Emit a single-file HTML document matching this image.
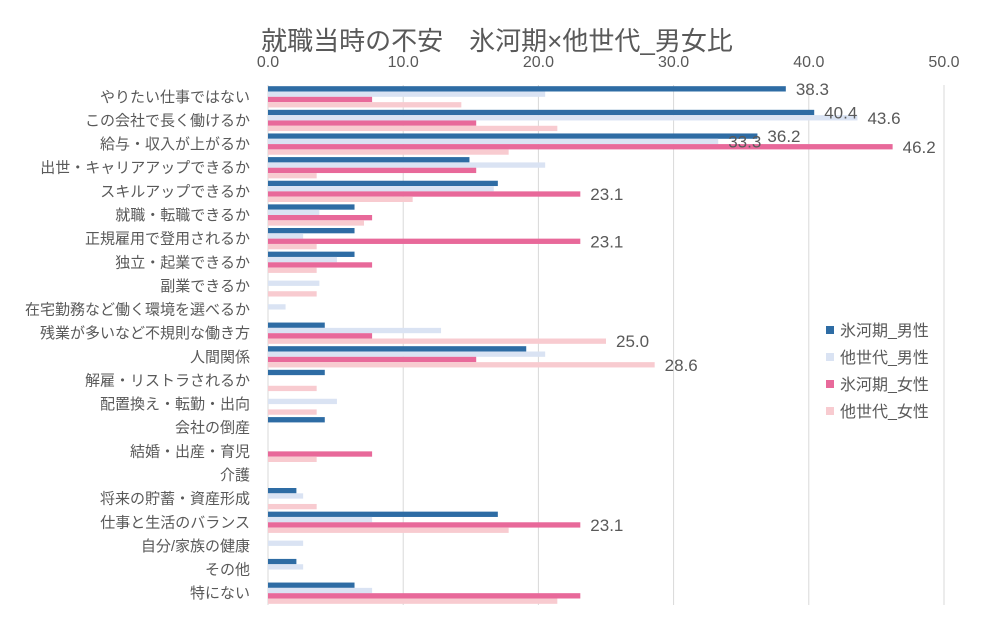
<!DOCTYPE html>
<html><head><meta charset="utf-8"><style>
body{margin:0;background:#fff;}
svg text{font-family:"Liberation Sans","Noto Sans CJK JP",sans-serif;fill:#595959;}
</style></head><body>
<svg id="chart" width="991" height="618" xmlns="http://www.w3.org/2000/svg">
<text x="497" y="50" font-size="26" text-anchor="middle">就職当時の不安　氷河期×他世代_男女比</text>
<g id="grid"></g><g id="bars"></g><g id="labels"></g>
<g id="legend"></g>
</svg>
<script>
const categories=["やりたい仕事ではない","この会社で長く働けるか","給与・収入が上がるか","出世・キャリアアップできるか","スキルアップできるか","就職・転職できるか","正規雇用で登用されるか","独立・起業できるか","副業できるか","在宅勤務など働く環境を選べるか","残業が多いなど不規則な働き方","人間関係","解雇・リストラされるか","配置換え・転勤・出向","会社の倒産","結婚・出産・育児","介護","将来の貯蓄・資産形成","仕事と生活のバランス","自分/家族の健康","その他","特にない"];
const seriesNames=["氷河期_男性","他世代_男性","氷河期_女性","他世代_女性"];
const hyoMale=[38.3,40.4,36.2,14.9,17.0,6.4,6.4,6.4,0,0,4.2,19.1,4.2,0,4.2,0,0,2.1,17.0,0,2.1,6.4];
const otherMale=[20.5,43.6,33.3,20.5,16.7,3.8,2.6,5.1,3.8,1.3,12.8,20.5,0,5.1,0,0,0,2.6,7.7,2.6,2.6,7.7];
const hyoFemale=[7.7,15.4,46.2,15.4,23.1,7.7,23.1,7.7,0,0,7.7,15.4,0,0,0,7.7,0,0,23.1,0,0,23.1];
const otherFemale=[14.3,21.4,17.8,3.6,10.7,7.1,3.6,3.6,3.6,0,25.0,28.6,3.6,3.6,0,3.6,0,3.6,17.8,0,0,21.4];
const ticks=[0,10,20,30,40,50];
const shown=[[0,0],[1,0],[1,1],[2,0],[2,1],[2,2],[4,2],[6,2],[18,2],[10,3],[11,3]];
const colors=["#2e6ca4","#dae3f3","#e8699a","#f8cbd0"];
const all=[hyoMale,otherMale,hyoFemale,otherFemale];
const NS="http://www.w3.org/2000/svg";
const x0=268,x1=944,yTop=85,yBottom=605,band=(yBottom-yTop)/categories.length;
const X=v=>x0+(x1-x0)*v/50;
const bh=band*0.9/4;
const Y=(i,s)=>yTop+band*i+band*0.05+bh*s;
function mk(tag,attrs,parent){const e=document.createElementNS(NS,tag);for(const k in attrs)e.setAttribute(k,attrs[k]);parent.appendChild(e);return e;}
const grid=document.getElementById('grid');
ticks.forEach(t=>{
 const l=mk('line',{x1:X(t),x2:X(t),y1:yTop,y2:yBottom,stroke:"#d9d9d9","stroke-width":1},grid);
 
 
 const tx=mk('text',{x:X(t),y:67,"font-size":16,"text-anchor":"middle"},grid);
 tx.textContent=t.toFixed(1);
 
 
});
categories.forEach((c,i)=>{
 const t=mk('text',{x:250,y:yTop+band*i+band/2+5,"font-size":15,"text-anchor":"end"},grid);
 t.textContent=c;
 
 
});
const bars=document.getElementById('bars');
all.forEach((arr,s)=>arr.forEach((v,i)=>{
 if(v<=0)return;
 const r=mk('rect',{x:x0,y:Y(i,s),width:X(v)-x0,height:bh,fill:colors[s]},bars);
 
 
}));
const labels=document.getElementById('labels');
shown.forEach(([i,s])=>{
 const v=all[s][i];
 const t=mk('text',{x:X(v)+10,y:Y(i,s)+bh/2+6,"font-size":17},labels);
 t.textContent=v.toFixed(1);
 
 
});
const lg=document.getElementById('legend');
seriesNames.forEach((n,s)=>{
 const y=330+27*s;
 const r=mk('rect',{x:826,y:y-4,width:8,height:8,fill:colors[s]},lg);
 
 
 const t=mk('text',{x:840,y:y+6,"font-size":16},lg);
 t.textContent=n;
 
 
});
const ax=mk('line',{x1:x0,x2:x0,y1:yTop,y2:yBottom,stroke:"#d9d9d9"},grid);


</script>
</body></html>
